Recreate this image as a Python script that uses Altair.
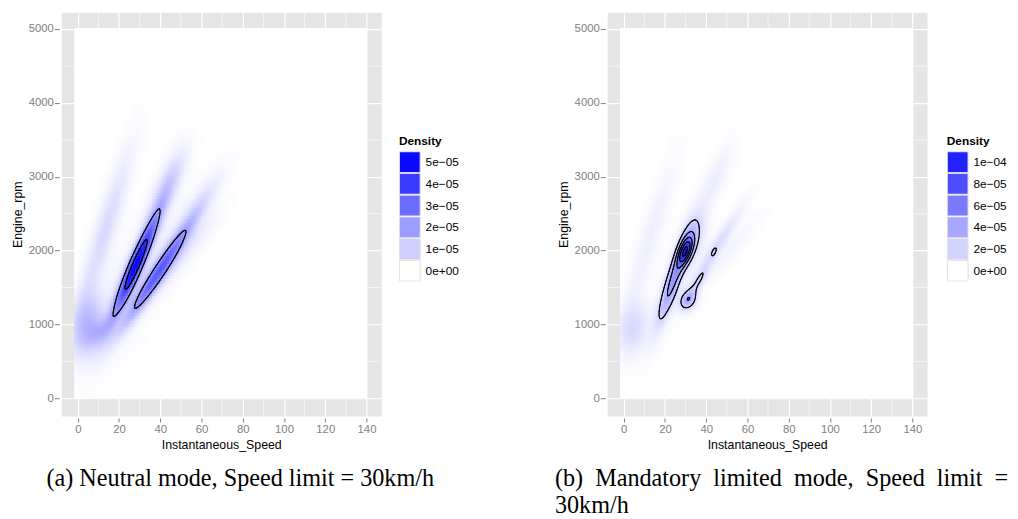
import numpy as np
import pandas as pd
import altair as alt

# ---------------- axes / frame ----------------
X_TICKS = [0, 20, 40, 60, 80, 100, 120, 140]
X_MINOR = [10, 30, 50, 70, 90, 110, 130]
Y_TICKS = [0, 1000, 2000, 3000, 4000, 5000]
Y_MINOR = [500, 1500, 2500, 3500, 4500]
X_DOMAIN = [-8.0, 147.1]
Y_DOMAIN = [-241, 5227]
X_EXTENT = [-1.8, 140.3]     # extent of the density raster
Y_EXTENT = [0, 5013]
RPM_PER_UNIT = 28.0          # rpm per km/h on screen (aspect of the panel)

# ---------------- panel (a): density components ----------------
# centre speed, centre rpm, orientation (deg), sd along, sd across (km/h units), peak density
A_SPEED = [28.3, 39.3, 43.0, 57.0, 13.0, 4.5, 11.0, 50.0, 25.0]
A_RPM = [1815, 1715, 2850, 2550, 2250, 1000, 900, 1950, 1500]
A_ANGLE = [66.7, 57.1, 66.7, 57.0, 73.0, 80.0, 50.0, 50.5, 60.0]
A_ALONG = [17.5, 20.0, 13.0, 15.0, 28.0, 10.0, 6.0, 17.0, 28.0]
A_ACROSS = [2.3, 2.4, 3.5, 3.5, 3.5, 5.0, 3.5, 3.5, 9.0]
A_PEAK = [4.85e-5, 2.95e-5, 1.0e-5, 0.5e-5, 0.75e-5, 1.3e-5, 0.8e-5, 0.5e-5, 0.35e-5]
A_LEVELS = [2e-5, 4e-5]
A_FILL_MAX = 5.2e-5
A_LEGEND_VALUES = [5e-5, 4e-5, 3e-5, 2e-5, 1e-5, 0.0]
A_LEGEND_LABELS = ["5e\u221205", "4e\u221205", "3e\u221205", "2e\u221205", "1e\u221205", "0e+00"]
A_CAPTION = "(a) Neutral mode, Speed limit = 30km/h"

# ---------------- panel (b) ----------------
B_SPEED = [30.0, 24.2, 33.0, 31.3, 36.2, 46.0, 43.8, 13.0, 4.5, 44.0, 53.0, 25.0]
B_RPM = [1990, 1620, 2150, 1330, 1575, 2100, 1975, 2200, 950, 2950, 2050, 1500]
B_ANGLE = [70.0, 72.0, 72.0, 60.0, 57.6, 57.0, 70.0, 73.0, 80.0, 66.0, 50.0, 60.0]
B_ALONG = [5.0, 15.0, 9.0, 3.5, 6.5, 14.0, 2.0, 26.0, 9.0, 13.0, 15.0, 28.0]
B_ACROSS = [2.0, 2.35, 3.5, 2.6, 1.7, 2.0, 1.0, 3.5, 5.0, 3.2, 3.0, 9.0]
B_PEAK = [6.5e-5, 4.5e-5, 2.2e-5, 3.35e-5, 1.6e-5, 1.5e-5, 0.7e-5, 0.75e-5, 1.6e-5, 0.8e-5, 0.45e-5, 0.2e-5]
B_LEVELS = [2e-5, 4e-5, 6e-5, 8e-5, 1e-4]
B_FILL_MAX = 1.154e-4
B_LEGEND_VALUES = [1e-4, 8e-5, 6e-5, 4e-5, 2e-5, 0.0]
B_LEGEND_LABELS = ["1e\u221204", "8e\u221205", "6e\u221205", "4e\u221205", "2e\u221205", "0e+00"]
B_CAPTION = ["(b) \u00a0Mandatory \u00a0limited \u00a0mode, \u00a0Speed \u00a0limit \u00a0=", "30km/h"]

SANS = "Liberation Sans"
SERIF = "Liberation Serif"


def density(xg, yg, comps):
    d = np.zeros_like(xg, dtype=float)
    Y = yg / RPM_PER_UNIT
    for cx, cy, ang, sa, sc, pk in zip(*comps):
        th = np.radians(ang)
        dx = xg - cx
        dy = Y - cy / RPM_PER_UNIT
        u = dx * np.cos(th) + dy * np.sin(th)
        v = -dx * np.sin(th) + dy * np.cos(th)
        d += pk * np.exp(-0.5 * ((u / sa) ** 2 + (v / sc) ** 2))
    return d


def contour_segments(xs, ys, Z, level):
    z00 = Z[:-1, :-1]; z10 = Z[:-1, 1:]; z01 = Z[1:, :-1]; z11 = Z[1:, 1:]
    mn = np.minimum(np.minimum(z00, z10), np.minimum(z01, z11))
    mx = np.maximum(np.maximum(z00, z10), np.maximum(z01, z11))
    js, iis = np.nonzero((mn < level) & (mx >= level))
    out = []
    for j, i in zip(js, iis):
        x0, x1 = xs[i], xs[i + 1]
        y0, y1 = ys[j], ys[j + 1]
        a, b, c, dd = Z[j, i], Z[j, i + 1], Z[j + 1, i + 1], Z[j + 1, i]
        corners = [(x0, y0, a), (x1, y0, b), (x1, y1, c), (x0, y1, dd)]
        pts = []
        for k in range(4):
            xa, ya, va = corners[k]
            xb, yb, vb = corners[(k + 1) % 4]
            if (va >= level) != (vb >= level):
                t = (level - va) / (vb - va)
                pts.append((xa + t * (xb - xa), ya + t * (yb - ya)))
            else:
                pts.append(None)
        found = [p for p in pts if p is not None]
        if len(found) == 2:
            out.append((*found[0], *found[1]))
        elif len(found) == 4:
            center = (a + b + c + dd) / 4
            if (center >= level) == (a >= level):
                out.append((*pts[0], *pts[1])); out.append((*pts[2], *pts[3]))
            else:
                out.append((*pts[3], *pts[0])); out.append((*pts[1], *pts[2]))
    return out


def label_expr(values, labels):
    expr = "''"
    for v, lab in reversed(list(zip(values, labels))):
        expr = f"abs(datum.value - {v}) < 1e-9 ? '{lab}' : ({expr})"
    return expr


def panel(comps, levels, fill_max, leg_vals, leg_labels, caption, cap_dx, legend_x):
    # raster cells (each drawn a little larger than its cell so no seams show)
    nx, ny = 120, 130
    xe = np.linspace(X_EXTENT[0], X_EXTENT[1], nx + 1)
    ye = np.linspace(Y_EXTENT[0], Y_EXTENT[1], ny + 1)
    cw, ch = xe[1] - xe[0], ye[1] - ye[0]
    xc = (xe[:-1] + xe[1:]) / 2
    yc = (ye[:-1] + ye[1:]) / 2
    XC, YC = np.meshgrid(xc, yc)
    D = density(XC, YC, comps)
    keep = D > 0.004 * fill_max
    heat_df = pd.DataFrame({
        "x0": np.round(XC[keep] - cw / 2, 3), "x1": np.round(XC[keep] + 0.75 * cw, 3),
        "y0": np.round(YC[keep] - ch / 2, 1), "y1": np.round(YC[keep] + 0.75 * ch, 1),
        "d": D[keep],
    })

    # contour lines on a finer grid
    gx = np.linspace(X_EXTENT[0], X_EXTENT[1], 300)
    gy = np.linspace(Y_EXTENT[0], Y_EXTENT[1], 300)
    GX, GY = np.meshgrid(gx, gy)
    G = density(GX, GY, comps)
    segs = []
    for lv in levels:
        segs += contour_segments(gx, gy, G, lv)
    seg_df = pd.DataFrame(segs, columns=["x0", "y0", "x1", "y1"]).round(3)

    xs = alt.Scale(domain=X_DOMAIN, nice=False, zero=False)
    ys = alt.Scale(domain=Y_DOMAIN, nice=False, zero=False)
    xaxis = alt.Axis(values=X_TICKS, title="Instantaneous_Speed", format="d", grid=True,
                     gridColor="white", gridWidth=1.2, domain=False, tickColor="#7F7F7F",
                     tickSize=4, labelColor="#7F7F7F", labelFontSize=11.5, labelFont=SANS,
                     labelPadding=2, offset=2, titleFont=SANS, titleFontSize=12.5,
                     titleFontWeight="normal", titleColor="black", titlePadding=3,
                     labelFlush=False, labelOverlap=False)
    yaxis = alt.Axis(values=Y_TICKS, title="Engine_rpm", format="d", grid=True,
                     gridColor="white", gridWidth=1.2, domain=False, tickColor="#7F7F7F",
                     tickSize=5, labelColor="#7F7F7F", labelFontSize=11.5, labelFont=SANS,
                     labelPadding=1, offset=2, titleFont=SANS, titleFontSize=12.5,
                     titleFontWeight="normal", titleColor="black", titlePadding=4,
                     labelFlush=False, labelOverlap=False)

    def X(f):
        return alt.X(f, type="quantitative", scale=xs, axis=xaxis)

    def Y(f):
        return alt.Y(f, type="quantitative", scale=ys, axis=yaxis)

    minor_x = alt.Chart(pd.DataFrame({"v": X_MINOR})).mark_rule(
        color="white", strokeWidth=0.6).encode(x=X("v"))
    minor_y = alt.Chart(pd.DataFrame({"v": Y_MINOR})).mark_rule(
        color="white", strokeWidth=0.6).encode(y=Y("v"))
    bg = alt.Chart(pd.DataFrame({"x0": [X_EXTENT[0]], "x1": [X_EXTENT[1]],
                                 "y0": [Y_EXTENT[0]], "y1": [Y_EXTENT[1]]})).mark_rect(
        fill="white").encode(x=X("x0"), x2="x1", y=Y("y0"), y2="y1")

    fill_scale = alt.Scale(domain=[0, fill_max], range=["#FFFFFF", "#0000FF"],
                           interpolate="rgb", clamp=True)
    legend = alt.Legend(title="Density", type="symbol", values=leg_vals,
                        labelExpr=label_expr(leg_vals, leg_labels),
                        symbolType="square", symbolSize=441, symbolStrokeColor="#E0E0E0",
                        symbolStrokeWidth=1, rowPadding=0, clipHeight=21.6, labelOffset=5,
                        titleFont=SANS, titleFontSize=12, titleFontWeight="bold",
                        titleColor="black", titlePadding=4,
                        labelFont=SANS, labelFontSize=12, labelColor="black",
                        orient="none", legendX=legend_x, legendY=125, padding=0)
    heat = alt.Chart(heat_df).mark_rect().encode(
        x=X("x0"), x2="x1", y=Y("y0"), y2="y1",
        fill=alt.Fill("d:Q", scale=fill_scale, legend=legend),
    )
    lines = alt.Chart(seg_df).mark_rule(color="black", strokeWidth=1.1, strokeCap="round").encode(
        x=X("x0"), y=Y("y0"), x2="x1", y2="y1")

    title = alt.TitleParams(text=caption, orient="bottom", anchor="start", frame="group",
                            dx=cap_dx, offset=17, font=SERIF, fontSize=24.5,
                            fontWeight="normal", color="black", lineHeight=27)
    return alt.layer(minor_x, minor_y, bg, heat, lines).properties(
        width=324, height=409, title=title)


left = panel((A_SPEED, A_RPM, A_ANGLE, A_ALONG, A_ACROSS, A_PEAK), A_LEVELS, A_FILL_MAX,
             A_LEGEND_VALUES, A_LEGEND_LABELS, A_CAPTION, -15, 342)
right = panel((B_SPEED, B_RPM, B_ANGLE, B_ALONG, B_ACROSS, B_PEAK), B_LEVELS, B_FILL_MAX,
              B_LEGEND_VALUES, B_LEGEND_LABELS, B_CAPTION, -53, 344)

chart = alt.hconcat(left, right, spacing=95).resolve_scale(
    x="independent", y="independent", fill="independent"
).resolve_legend(fill="independent").properties(
    padding={"left": 2, "top": 0, "right": 0, "bottom": 0}
).configure_view(fill="#E5E5E5", stroke="transparent")

chart.save("out.html", embed_options={"renderer": "svg", "actions": False})
